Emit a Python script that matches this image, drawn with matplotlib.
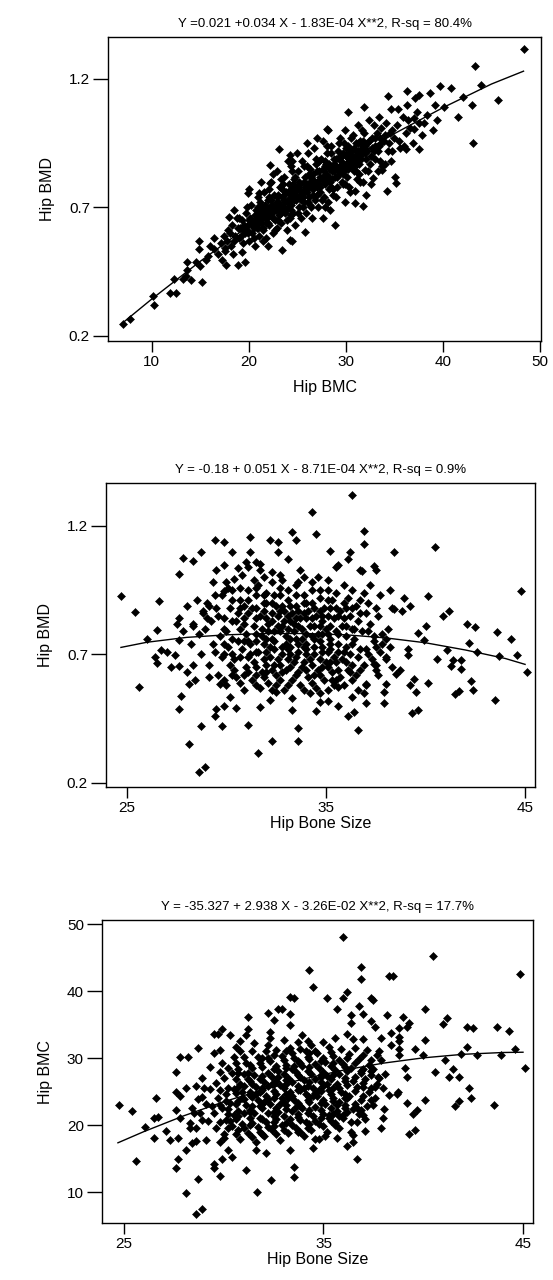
import matplotlib
matplotlib.use('Agg')
import matplotlib.pyplot as plt

plt.rcParams['font.family'] = ['Liberation Sans', 'DejaVu Sans']

# ---- data ----
# Panel 1: Hip BMC (x) vs Hip BMD (y)
bmc_bmd_points = [
    # sparse points along the lower tail
    (7.0, 0.245), (7.8, 0.265), (10.1, 0.356), (10.2, 0.320), (11.9, 0.366), (12.5, 0.366),
    (12.3, 0.422), (13.2, 0.422), (13.5, 0.431), (14.1, 0.418), (15.2, 0.410), (13.6, 0.457),
    (13.6, 0.489), (14.6, 0.489), (14.9, 0.571), (14.9, 0.538), (16.4, 0.580), (16.4, 0.538),
    (15.6, 0.496), (17.2, 0.496), (17.7, 0.476), (18.9, 0.476), (19.6, 0.489), (19.3, 0.525),
    (18.5, 0.690), (18.0, 0.664), (22.0, 0.550), (23.4, 0.535), (24.2, 0.573), (24.5, 0.571),
    (25.8, 0.605), (27.6, 0.659), (28.9, 0.632), (28.4, 0.690), (29.9, 0.722), (30.9, 0.716),
    (31.8, 0.706), (32.1, 0.748), (34.2, 0.764), (35.2, 0.795), (30.9, 0.762), (15.0, 0.470),
    (15.8, 0.510), (16.8, 0.520), (17.5, 0.530), (16.0, 0.550),
    # sparse points in the upper part
    (48.3, 1.317), (43.3, 1.250), (43.9, 1.177), (45.7, 1.116), (42.1, 1.129), (43.0, 1.098),
    (43.1, 0.949), (40.8, 1.163), (39.7, 1.172), (38.7, 1.146), (37.5, 1.137), (37.1, 1.124),
    (36.3, 1.154), (34.3, 1.133), (34.6, 1.081), (35.4, 1.081), (36.3, 1.100), (31.9, 1.092),
    (30.2, 1.070), (28.1, 1.006), (33.4, 1.051), (39.2, 1.098), (40.1, 1.092), (39.4, 1.040),
    (38.1, 1.027), (37.0, 1.047), (37.5, 1.030), (37.0, 1.006), (37.5, 0.928), (36.2, 0.928),
    (35.1, 0.820), (32.0, 0.846), (33.7, 0.846), (32.8, 0.813), (23.1, 0.926), (24.2, 0.904),
    (22.2, 0.865), (24.5, 0.880), (19.9, 0.756), (21.1, 0.755), (22.2, 0.795),
    # dense core
    (17.1, 0.56), (17.4, 0.59), (17.6, 0.54), (17.9, 0.61), (17.8, 0.57), (18.2, 0.55),
    (18.3, 0.63), (18.6, 0.59), (18.4, 0.52), (18.8, 0.66),
    (19.0, 0.58), (19.1, 0.62), (19.3, 0.65), (19.4, 0.56), (19.6, 0.60), (19.7, 0.68),
    (19.9, 0.63), (20.0, 0.57), (20.1, 0.66), (20.2, 0.71), (20.3, 0.60), (20.4, 0.64),
    (20.6, 0.55), (20.7, 0.69), (20.8, 0.62),
    (21.0, 0.67), (21.1, 0.59), (21.2, 0.72), (21.3, 0.64), (21.4, 0.70), (21.5, 0.61),
    (21.6, 0.76), (21.7, 0.66), (21.8, 0.58), (21.9, 0.69), (22.0, 0.73), (22.1, 0.63),
    (22.2, 0.67), (22.3, 0.80), (22.4, 0.71), (22.5, 0.60), (22.6, 0.75), (22.7, 0.65),
    (22.8, 0.69), (22.9, 0.84), (22.9, 0.62),
    (23.0, 0.72), (23.1, 0.67), (23.2, 0.78), (23.3, 0.64), (23.4, 0.74), (23.5, 0.70),
    (23.6, 0.82), (23.7, 0.68), (23.8, 0.76), (23.9, 0.61), (24.0, 0.73), (24.1, 0.79),
    (24.2, 0.66), (24.3, 0.86), (24.4, 0.71), (24.5, 0.75), (24.6, 0.68), (24.7, 0.81),
    (24.8, 0.63), (24.9, 0.77),
    (25.0, 0.74), (25.1, 0.84), (25.2, 0.70), (25.3, 0.79), (25.4, 0.66), (25.5, 0.88),
    (25.6, 0.76), (25.7, 0.72), (25.8, 0.82), (25.9, 0.68), (26.0, 0.79), (26.1, 0.91),
    (26.2, 0.74), (26.3, 0.85), (26.4, 0.70), (26.5, 0.81), (26.6, 0.77), (26.7, 0.93),
    (26.8, 0.73), (26.9, 0.87),
    (27.0, 0.80), (27.1, 0.70), (27.2, 0.84), (27.3, 0.76), (27.4, 0.89), (27.5, 0.81),
    (27.6, 0.96), (27.7, 0.74), (27.8, 0.86), (27.9, 0.79), (28.0, 0.83), (28.1, 0.91),
    (28.2, 0.72), (28.3, 0.87), (28.4, 0.80), (28.5, 0.94), (28.6, 0.84), (28.7, 0.77),
    (28.8, 0.89), (28.9, 0.82),
    (29.0, 0.86), (29.1, 0.78), (29.2, 0.92), (29.3, 0.83), (29.4, 0.97), (29.5, 0.88),
    (29.6, 0.80), (29.7, 0.91), (29.8, 0.85), (29.9, 1.00), (30.0, 0.87), (30.1, 0.82),
    (30.2, 0.94), (30.3, 0.89), (30.4, 0.76), (30.5, 0.92), (30.6, 0.86), (30.7, 0.98),
    (30.8, 0.84), (30.9, 0.90),
    (31.0, 0.95), (31.1, 0.87), (31.2, 0.92), (31.3, 1.02), (31.4, 0.83), (31.5, 0.96),
    (31.6, 0.89), (31.7, 0.93), (31.8, 0.80), (31.9, 0.99), (32.0, 0.91), (32.2, 0.95),
    (32.4, 1.04), (32.5, 0.87), (32.7, 0.97), (32.9, 0.92),
    (33.0, 0.89), (33.2, 0.99), (33.4, 0.94), (33.6, 1.01), (33.7, 0.86), (33.9, 0.96),
    (34.1, 1.03), (34.3, 0.92), (34.5, 0.99), (34.7, 0.88),
    (35.0, 0.97), (35.3, 1.02), (35.6, 0.93), (35.9, 1.05), (36.2, 0.99), (36.6, 1.01),
    (36.9, 0.95), (37.3, 1.07), (37.8, 0.98), (38.4, 1.06), (39.0, 1.00), (41.5, 1.05),
    (20.5, 0.62), (21.2, 0.65), (21.9, 0.66), (22.4, 0.68), (22.8, 0.70), (23.2, 0.71),
    (23.6, 0.73), (24.0, 0.70), (24.4, 0.74), (24.8, 0.76), (25.2, 0.77), (25.6, 0.74),
    (26.0, 0.76), (26.4, 0.78), (26.8, 0.80), (27.2, 0.79), (27.6, 0.82), (28.0, 0.80),
    (28.4, 0.85), (28.8, 0.84), (29.2, 0.85), (29.6, 0.87), (30.0, 0.90), (30.4, 0.88),
    (30.8, 0.93), (31.2, 0.89), (31.6, 0.91), (32.0, 0.94), (26.2, 0.83), (24.6, 0.79),
    (23.0, 0.75), (21.6, 0.69), (27.9, 0.88), (29.4, 0.90), (25.4, 0.73), (22.0, 0.64),
    (23.8, 0.69), (26.6, 0.75), (28.6, 0.81), (30.2, 0.85),
    # core fill
    (18.1, 0.60), (18.5, 0.57), (18.9, 0.62), (19.2, 0.59), (19.5, 0.63), (19.8, 0.61),
    (20.0, 0.65), (20.3, 0.63), (20.6, 0.67), (20.9, 0.64), (21.1, 0.69), (21.4, 0.66),
    (21.7, 0.71), (22.0, 0.68), (22.3, 0.73), (22.6, 0.70), (22.9, 0.74), (23.1, 0.69),
    (23.4, 0.77), (23.7, 0.72), (24.0, 0.76), (24.3, 0.69), (24.6, 0.77), (24.9, 0.73),
    (25.2, 0.80), (25.5, 0.75), (25.8, 0.78), (26.1, 0.72), (26.4, 0.82), (26.7, 0.79),
    (27.0, 0.84), (27.3, 0.78), (27.6, 0.85), (27.9, 0.81), (28.2, 0.86), (28.5, 0.78),
    (28.8, 0.87), (29.1, 0.82), (29.4, 0.86), (29.7, 0.83), (30.0, 0.93), (30.3, 0.86),
    (30.6, 0.90), (30.9, 0.87), (31.2, 0.95), (31.5, 0.90), (31.8, 0.94), (32.1, 0.89),
    (32.4, 0.96), (32.7, 0.93), (33.0, 0.97), (33.3, 0.92), (33.6, 0.95), (34.0, 0.98),
    (34.4, 0.95), (34.8, 1.00),
    (19.0, 0.66), (19.8, 0.70), (20.5, 0.58), (21.0, 0.74), (21.5, 0.57), (22.1, 0.77),
    (22.7, 0.61), (23.3, 0.81), (23.9, 0.65), (24.5, 0.84), (25.1, 0.68), (25.7, 0.86),
    (26.3, 0.71), (26.9, 0.89), (27.5, 0.73), (28.1, 0.94), (28.7, 0.75), (29.3, 0.95),
    (29.9, 0.79), (30.5, 0.97), (31.1, 0.81), (31.7, 1.00), (32.3, 0.84), (32.9, 1.02),
    (33.5, 0.88), (24.0, 0.88), (25.0, 0.91), (26.0, 0.95), (27.0, 0.97), (28.2, 1.00),
    (20.0, 0.77), (21.3, 0.80), (22.5, 0.83), (26.5, 0.66), (27.8, 0.70), (29.0, 0.74),
    (30.3, 0.78), (31.5, 0.80), (32.6, 0.79), (33.3, 0.84), (34.0, 0.87), (34.8, 0.92),
    (35.5, 0.96), (36.0, 0.94), (36.4, 1.04),
    (19.4, 0.61), (19.9, 0.60), (20.2, 0.64), (20.7, 0.65), (21.0, 0.62), (21.4, 0.68),
    (21.8, 0.64), (22.2, 0.70), (22.5, 0.66), (22.9, 0.72), (23.3, 0.68), (23.6, 0.75),
    (24.0, 0.72), (24.3, 0.77), (24.7, 0.73), (25.0, 0.78), (25.3, 0.75), (25.7, 0.80),
    (26.0, 0.77), (26.3, 0.80), (26.6, 0.83), (27.0, 0.78), (27.3, 0.82), (27.7, 0.84),
    (28.0, 0.87), (28.3, 0.82), (28.7, 0.86), (29.0, 0.89), (29.3, 0.84), (29.6, 0.90),
    (30.0, 0.85), (30.3, 0.91), (30.7, 0.88), (31.0, 0.92), (31.4, 0.87), (31.8, 0.96),
    (32.2, 0.92), (32.6, 0.90), (33.0, 0.94), (33.5, 0.97), (20.9, 0.70), (22.1, 0.74),
    (23.5, 0.79), (24.8, 0.82), (26.0, 0.86), (27.2, 0.88), (28.5, 0.91), (29.8, 0.95),
    (21.5, 0.62), (23.0, 0.65), (24.3, 0.67), (25.6, 0.70), (27.0, 0.75), (28.3, 0.77),
    (29.7, 0.79), (31.0, 0.84),
]
fit1_x = [7, 10, 15, 20, 25, 30, 35, 40, 45, 48.3]
fit1_y = [0.250, 0.343, 0.490, 0.628, 0.757, 0.876, 0.987, 1.088, 1.180, 1.230]

# Panel 2: Hip Bone Size (x) vs Hip BMD (y)
size_bmd_points = [
    (24.7, 0.927), (25.4, 0.865), (26.6, 0.907), (26.5, 0.796), (27.6, 1.011), (27.8, 1.076),
    (28.3, 1.063), (28.7, 1.100), (29.4, 1.146), (29.9, 1.139), (30.3, 1.100), (31.2, 1.156),
    (31.2, 1.100), (32.2, 1.146), (32.6, 1.137), (32.6, 1.100), (33.3, 1.178), (29.5, 1.030),
    (29.9, 1.046), (30.6, 1.037), (31.0, 1.059), (31.5, 1.060), (31.7, 1.027), (28.0, 0.887),
    (28.5, 0.910), (27.5, 0.820), (27.6, 0.840), (28.3, 0.809), (29.3, 0.980), (30.0, 0.980),
    (30.4, 0.995), (29.4, 0.930), (29.9, 0.945), (30.3, 0.950),
    (36.3, 1.321), (34.3, 1.254), (34.5, 1.170), (33.5, 1.146), (36.9, 1.180), (36.9, 1.131),
    (35.2, 1.102), (36.2, 1.098), (36.1, 1.070), (38.4, 1.098), (40.5, 1.117), (37.4, 1.042),
    (37.5, 1.030), (35.6, 1.046), (35.5, 1.040), (36.8, 1.024), (44.8, 0.946), (40.1, 0.926),
    (38.9, 0.921), (38.2, 0.952), (41.2, 0.869), (40.9, 0.851), (42.1, 0.820), (42.5, 0.806),
    (43.6, 0.788), (40.0, 0.809), (39.6, 0.783), (39.2, 0.890), (38.8, 0.870), (38.4, 0.878),
    (37.7, 0.930), (37.2, 0.968), (36.7, 1.027),
    (25.6, 0.573), (26.0, 0.758), (26.4, 0.690), (26.5, 0.668), (27.0, 0.709), (27.4, 0.696),
    (27.6, 0.757), (27.2, 0.651), (27.6, 0.653), (28.1, 0.583), (27.7, 0.538), (27.6, 0.488),
    (28.4, 0.600), (28.7, 0.420), (28.1, 0.353), (28.6, 0.242), (28.9, 0.262), (29.5, 0.486),
    (29.4, 0.459), (29.9, 0.498), (29.8, 0.420), (30.5, 0.490), (30.2, 0.534), (31.1, 0.424),
    (31.6, 0.318), (32.3, 0.363), (31.7, 0.495), (32.2, 0.521), (32.5, 0.553), (29.7, 0.586),
    (29.9, 0.600), (29.1, 0.612), (28.0, 0.631), (28.3, 0.660), (26.7, 0.718),
    (33.6, 0.412), (33.6, 0.363), (36.6, 0.404), (33.3, 0.482), (34.5, 0.480), (36.1, 0.460),
    (36.4, 0.475), (35.6, 0.500), (37.0, 0.512), (37.9, 0.510), (39.3, 0.472), (39.6, 0.482),
    (34.7, 0.516), (35.1, 0.517), (34.7, 0.551), (36.3, 0.534), (36.9, 0.550), (37.9, 0.553),
    (37.0, 0.586), (36.6, 0.560), (38.0, 0.586), (39.2, 0.580), (39.5, 0.553), (40.1, 0.589),
    (39.4, 0.605), (41.5, 0.547), (41.7, 0.557), (42.4, 0.563), (42.3, 0.596), (43.5, 0.524),
    (40.6, 0.683), (41.3, 0.653), (41.8, 0.643), (41.8, 0.677), (41.4, 0.677), (42.2, 0.744),
    (42.6, 0.710), (43.7, 0.692), (44.3, 0.758), (44.6, 0.697), (41.1, 0.718), (39.1, 0.722),
    (39.1, 0.696), (39.9, 0.757), (38.3, 0.651), (38.5, 0.625), (38.7, 0.640), (35.3, 0.599),
    (35.6, 0.573), (36.3, 0.600), (36.2, 0.631), (37.0, 0.580), (37.4, 0.664), (37.5, 0.638),
    (37.6, 0.620), (38.0, 0.683), (45.1, 0.630),
    (28.8, 0.87), (29.1, 0.89), (29.5, 0.88), (29.0, 0.84), (28.9, 0.80),
    # dense core
    (29.1, 0.66), (29.3, 0.74), (29.2, 0.83), (29.0, 0.90), (29.4, 0.71),
    (29.6, 0.62), (29.8, 0.69), (29.7, 0.77), (29.6, 0.85), (29.8, 0.93), (29.9, 0.80),
    (30.0, 0.58), (30.2, 0.66), (30.1, 0.73), (30.0, 0.79), (30.2, 0.88), (30.1, 0.96), (30.3, 0.70),
    (30.5, 0.61), (30.4, 0.68), (30.6, 0.75), (30.5, 0.83), (30.7, 0.91), (30.4, 0.64), (30.6, 0.86),
    (30.9, 0.56), (31.0, 0.65), (30.8, 0.72), (31.0, 0.78), (30.9, 0.84), (31.1, 0.95), (30.8, 1.01),
    (31.1, 0.69),
    (31.3, 0.60), (31.4, 0.67), (31.2, 0.74), (31.4, 0.81), (31.3, 0.88), (31.5, 0.93), (31.2, 0.70),
    (31.4, 0.99),
    (31.7, 0.57), (31.8, 0.63), (31.6, 0.71), (31.8, 0.77), (31.7, 0.85), (31.9, 0.90), (31.6, 0.97),
    (31.8, 0.80), (31.7, 1.05),
    (32.1, 0.59), (32.0, 0.66), (32.2, 0.73), (32.1, 0.79), (32.3, 0.86), (32.0, 0.94), (32.2, 0.69),
    (32.1, 0.82), (32.3, 1.02),
    (32.5, 0.62), (32.6, 0.68), (32.4, 0.75), (32.6, 0.81), (32.5, 0.89), (32.7, 0.96), (32.4, 0.72),
    (32.6, 0.85), (32.5, 0.58),
    (32.9, 0.56), (33.0, 0.64), (32.8, 0.70), (33.0, 0.77), (32.9, 0.83), (33.1, 0.91), (32.8, 0.99),
    (33.0, 0.74), (32.9, 0.87), (33.1, 1.07),
    (33.3, 0.60), (33.4, 0.67), (33.2, 0.73), (33.4, 0.79), (33.3, 0.86), (33.5, 0.93), (33.2, 0.70),
    (33.4, 0.82), (33.3, 0.53),
    (33.7, 0.58), (33.8, 0.65), (33.6, 0.71), (33.8, 0.76), (33.7, 0.84), (33.9, 0.90), (33.6, 0.98),
    (33.8, 0.80), (33.7, 1.03),
    (34.1, 0.61), (34.2, 0.68), (34.0, 0.74), (34.2, 0.81), (34.1, 0.87), (34.3, 0.95), (34.0, 0.72),
    (34.2, 0.55),
    (34.5, 0.57), (34.6, 0.64), (34.4, 0.70), (34.6, 0.78), (34.5, 0.85), (34.7, 0.92), (34.4, 0.76),
    (34.6, 1.00),
    (34.9, 0.60), (35.0, 0.67), (34.8, 0.73), (35.0, 0.80), (34.9, 0.88), (35.1, 0.95), (34.8, 0.83),
    (35.3, 0.63), (35.4, 0.69), (35.2, 0.76), (35.4, 0.84), (35.3, 0.91), (35.2, 0.72), (35.4, 0.58),
    (35.7, 0.61), (35.8, 0.68), (35.6, 0.74), (35.8, 0.81), (35.7, 0.87), (35.9, 0.97), (35.6, 0.78),
    (36.1, 0.64), (36.2, 0.70), (36.0, 0.77), (36.2, 0.85), (36.1, 0.92), (36.0, 0.73),
    (36.5, 0.62), (36.6, 0.69), (36.4, 0.76), (36.6, 0.83), (36.5, 0.89), (36.4, 0.80),
    (36.9, 0.66), (37.0, 0.72), (36.8, 0.79), (37.0, 0.86), (36.9, 0.94),
    (37.3, 0.68), (37.4, 0.75), (37.2, 0.82), (37.4, 0.77),
    (37.7, 0.71), (37.8, 0.78), (37.6, 0.85), (37.8, 0.74),
    (38.2, 0.73), (38.1, 0.80), (38.3, 0.88),
    (28.7, 0.70), (28.6, 0.78), (28.8, 0.86), (28.2, 0.74), (28.3, 0.82), (27.8, 0.79),
    # core fill
    (29.9, 0.70), (29.9, 0.84), (29.9, 0.74),
    (30.3, 0.62), (30.3, 0.76), (30.3, 0.91), (30.3, 0.83),
    (30.7, 0.59), (30.7, 0.69), (30.7, 0.80), (30.7, 0.88), (30.7, 0.96),
    (31.1, 0.63), (31.1, 0.75), (31.1, 0.86), (31.1, 0.91), (31.1, 1.04),
    (31.5, 0.58), (31.5, 0.65), (31.5, 0.78), (31.5, 0.84), (31.5, 0.96),
    (31.9, 0.61), (31.9, 0.68), (31.9, 0.74), (31.9, 0.87), (31.9, 0.93), (31.9, 1.00),
    (32.3, 0.56), (32.3, 0.64), (32.3, 0.76), (32.3, 0.83), (32.3, 0.90), (32.3, 0.98),
    (32.7, 0.60), (32.7, 0.66), (32.7, 0.79), (32.7, 0.87), (32.7, 0.93), (32.7, 1.01),
    (33.1, 0.58), (33.1, 0.68), (33.1, 0.72), (33.1, 0.80), (33.1, 0.95), (33.1, 0.85),
    (33.5, 0.62), (33.5, 0.69), (33.5, 0.76), (33.5, 0.84), (33.5, 0.89), (33.5, 0.97),
    (33.9, 0.56), (33.9, 0.67), (33.9, 0.73), (33.9, 0.86), (33.9, 0.93), (33.9, 1.00),
    (34.3, 0.59), (34.3, 0.66), (34.3, 0.77), (34.3, 0.84), (34.3, 0.90), (34.3, 0.98),
    (34.7, 0.62), (34.7, 0.68), (34.7, 0.75), (34.7, 0.81), (34.7, 0.87), (34.7, 0.95),
    (35.1, 0.56), (35.1, 0.65), (35.1, 0.71), (35.1, 0.78), (35.1, 0.85), (35.1, 0.91), (35.1, 0.99),
    (35.5, 0.60), (35.5, 0.67), (35.5, 0.79), (35.5, 0.88), (35.5, 0.94),
    (35.9, 0.58), (35.9, 0.71), (35.9, 0.84), (35.9, 0.90),
    (36.3, 0.66), (36.3, 0.74), (36.3, 0.80), (36.3, 0.88), (36.3, 0.95),
    (36.7, 0.64), (36.7, 0.72), (36.7, 0.86), (36.7, 0.91),
    (37.1, 0.70), (37.1, 0.79), (37.1, 0.90),
    (37.5, 0.66), (37.5, 0.73), (37.5, 0.88),
    (38.0, 0.76), (38.0, 0.69),
    (30.9, 0.62), (30.9, 0.75), (30.9, 0.82), (30.9, 0.89),
    (31.5, 0.62), (31.5, 0.71), (31.5, 0.75), (31.5, 0.88),
    (32.0, 0.63), (32.0, 0.71), (32.0, 0.76), (32.0, 0.84), (32.0, 0.90),
    (32.4, 0.66), (32.4, 0.79), (32.4, 0.93),
    (32.8, 0.63), (32.8, 0.73), (32.8, 0.81), (32.8, 0.89),
    (33.2, 0.65), (33.2, 0.76), (33.2, 0.83), (33.2, 0.89),
    (33.6, 0.63), (33.6, 0.74), (33.6, 0.81), (33.6, 0.87),
    (34.0, 0.64), (34.0, 0.70), (34.0, 0.78), (34.0, 0.84), (34.0, 0.90),
    (34.4, 0.62), (34.4, 0.73), (34.4, 0.81), (34.4, 0.88),
    (34.8, 0.65), (34.8, 0.71), (34.8, 0.78), (34.8, 0.85),
    (35.2, 0.67), (35.2, 0.74), (35.2, 0.81), (35.2, 0.88),
    (35.6, 0.64), (35.6, 0.71), (35.6, 0.85),
    (36.0, 0.67), (36.0, 0.81), (36.0, 0.88),
]
fit2_x = [24.7, 26, 28, 30, 32, 34, 36, 38, 40, 42, 44, 45]
fit2_y = [0.727, 0.747, 0.766, 0.776, 0.781, 0.781, 0.776, 0.764, 0.745, 0.717, 0.684, 0.661]

# Panel 3: Hip Bone Size (x) vs Hip BMC (y)
size_bmc_points = [
    (27.6, 27.9), (27.8, 30.1), (28.2, 30.1), (28.7, 31.5), (29.5, 33.6), (29.7, 33.6),
    (29.9, 34.3), (30.3, 33.4), (29.5, 30.8), (29.8, 31.2), (30.6, 31.7), (30.8, 32.6),
    (31.1, 33.4), (31.2, 34.4), (31.2, 36.2), (32.2, 36.8), (32.7, 37.3), (32.9, 37.3),
    (32.5, 35.7), (32.3, 33.9), (33.3, 36.6), (33.3, 34.9), (33.3, 39.1), (33.5, 38.9),
    (29.3, 28.7), (28.6, 25.8), (28.1, 25.5), (27.6, 25.0),
    (36.0, 48.0), (34.3, 43.2), (36.9, 43.6), (36.9, 41.8), (40.5, 45.2), (44.85, 42.5),
    (38.3, 42.2), (38.5, 42.2), (34.5, 40.6), (36.2, 39.8), (36.0, 39.0), (35.2, 38.9),
    (37.4, 39.0), (37.5, 38.6), (35.7, 37.3), (36.8, 37.8), (38.2, 36.5), (40.1, 37.3),
    (41.0, 35.1), (41.2, 36.0), (42.2, 34.7), (42.5, 34.5), (43.7, 34.6), (44.3, 34.0),
    (44.6, 31.4), (42.2, 31.6), (41.9, 30.6), (42.7, 30.4), (43.9, 30.5), (40.1, 32.7),
    (39.6, 31.3), (40.0, 30.4), (39.0, 36.1), (39.3, 35.3), (39.2, 34.6), (38.8, 34.5),
    (38.4, 33.8), (38.8, 33.2), (38.8, 32.5), (38.4, 31.9), (38.8, 31.4), (38.8, 30.4),
    (40.6, 27.9), (41.1, 29.7), (41.5, 28.3), (41.3, 27.2), (41.8, 27.2), (42.3, 25.5),
    (39.1, 28.5), (39.2, 27.2), (45.1, 28.5), (37.6, 34.7), (37.9, 33.0), (37.0, 32.8),
    (37.4, 35.6), (37.0, 36.6), (36.4, 35.3), (36.4, 36.5), (36.9, 28.0), (37.4, 28.0),
    (37.75, 27.2), (37.0, 25.7), (37.6, 25.7), (38.75, 25.0),
    (24.75, 23.0), (25.4, 22.1), (25.6, 14.7), (26.6, 24.1), (26.05, 19.75), (26.5, 21.0),
    (26.7, 21.2), (26.5, 18.0), (27.1, 19.1), (27.3, 17.8), (27.6, 22.2), (27.8, 21.0),
    (27.7, 18.0), (27.8, 24.3), (28.1, 16.3), (27.7, 15.0), (27.6, 13.6), (28.1, 9.9),
    (28.7, 12.0), (28.6, 6.7), (28.9, 7.4), (28.4, 17.3), (28.6, 17.6), (29.1, 17.8),
    (29.5, 13.6), (29.5, 14.2), (29.8, 12.4), (29.9, 15.0), (30.2, 16.3), (30.4, 15.3),
    (29.8, 17.5), (30.0, 18.0), (31.1, 13.3), (31.65, 10.05), (32.35, 11.8), (31.6, 16.2),
    (32.1, 15.9), (33.3, 16.3), (33.5, 13.8), (33.5, 12.2),
    (36.7, 14.9), (34.5, 16.6), (36.2, 16.8), (36.5, 17.4), (34.6, 17.9), (34.8, 17.9),
    (35.1, 18.4), (35.7, 18.0), (36.5, 18.5), (36.4, 19.0), (37.1, 19.1), (37.9, 19.5),
    (39.3, 18.6), (39.6, 19.3), (38.0, 21.0), (38.05, 22.4), (39.5, 21.6), (39.7, 22.2),
    (39.2, 23.3), (40.1, 23.7), (41.6, 22.8), (41.8, 23.6), (42.4, 24.1), (43.55, 23.0),
    (37.0, 21.5), (37.1, 20.9), (36.9, 22.2), (36.7, 20.5), (36.0, 21.5), (35.6, 20.3),
    (35.8, 19.5), (35.3, 21.5), (37.4, 23.7), (37.5, 23.0), (38.3, 24.5), (38.7, 24.7),
    (36.7, 22.6), (28.3, 20.3), (28.6, 19.5), (28.9, 20.8), (28.5, 21.8), (28.9, 27.0),
    (29.0, 25.5), (28.7, 23.9),
    # dense core
    (29.6, 19.5), (29.5, 21.8), (29.7, 24.0), (29.6, 26.3), (29.4, 22.9),
    (30.0, 18.6), (30.1, 20.7), (29.9, 22.5), (30.1, 24.6), (30.0, 27.0), (29.9, 29.2), (30.1, 23.6),
    (30.4, 19.8), (30.5, 21.5), (30.3, 23.3), (30.5, 25.4), (30.4, 27.8), (30.3, 20.6), (30.5, 30.1),
    (30.8, 17.9), (30.9, 20.2), (30.7, 22.1), (30.9, 24.0), (30.8, 26.1), (30.7, 28.4), (30.9, 25.0),
    (30.8, 31.0),
    (31.2, 18.8), (31.3, 21.0), (31.1, 23.0), (31.3, 24.9), (31.2, 26.8), (31.1, 29.3), (31.3, 22.0),
    (31.2, 27.8),
    (31.6, 17.5), (31.7, 19.7), (31.5, 21.8), (31.7, 23.7), (31.6, 25.7), (31.5, 27.5), (31.7, 30.2),
    (31.6, 24.6), (31.5, 32.2),
    (32.0, 18.3), (32.1, 20.4), (31.9, 22.5), (32.1, 24.4), (32.0, 26.4), (31.9, 28.6), (32.1, 31.0),
    (32.0, 23.5), (31.9, 25.5),
    (32.4, 19.2), (32.5, 21.3), (32.3, 23.2), (32.5, 25.1), (32.4, 27.2), (32.3, 29.5), (32.5, 20.5),
    (32.4, 26.2), (32.3, 33.0),
    (32.8, 17.8), (32.9, 20.0), (32.7, 22.0), (32.9, 24.0), (32.8, 26.0), (32.7, 28.1), (32.9, 30.3),
    (32.8, 23.1), (32.7, 27.1),
    (33.2, 18.8), (33.3, 20.9), (33.1, 23.0), (33.3, 25.0), (33.2, 27.0), (33.1, 29.0), (33.3, 31.5),
    (33.2, 24.0), (33.1, 26.1),
    (33.6, 19.6), (33.7, 21.7), (33.5, 23.8), (33.7, 25.8), (33.6, 27.9), (33.5, 30.0), (33.7, 32.4),
    (33.6, 22.7), (33.5, 28.8),
    (34.0, 18.4), (34.1, 20.5), (33.9, 22.6), (34.1, 24.6), (34.0, 26.7), (33.9, 28.8), (34.1, 31.0),
    (34.0, 25.6), (33.9, 33.5),
    (34.4, 19.3), (34.5, 21.4), (34.3, 23.5), (34.5, 25.5), (34.4, 27.6), (34.3, 29.8), (34.5, 24.4),
    (34.4, 32.0),
    (34.8, 20.2), (34.9, 22.3), (34.7, 24.3), (34.9, 26.4), (34.8, 28.5), (34.7, 30.7), (34.9, 27.4),
    (34.8, 25.3),
    (35.2, 19.0), (35.3, 21.1), (35.1, 23.2), (35.3, 25.2), (35.2, 27.3), (35.1, 29.4), (35.3, 31.6),
    (35.2, 26.2),
    (35.6, 20.0), (35.7, 22.1), (35.5, 24.1), (35.7, 26.1), (35.6, 28.2), (35.5, 30.3), (35.7, 23.0),
    (35.6, 33.0),
    (36.0, 21.0), (36.1, 23.0), (35.9, 25.0), (36.1, 27.0), (36.0, 29.1), (35.9, 31.4), (36.1, 24.0),
    (36.4, 20.4), (36.5, 22.4), (36.3, 24.4), (36.5, 26.5), (36.4, 28.5), (36.3, 30.6), (36.5, 32.8),
    (36.8, 21.6), (36.9, 23.7), (36.7, 25.7), (36.9, 27.7), (36.8, 29.8),
    (37.2, 22.9), (37.3, 24.9), (37.1, 26.9), (37.3, 29.0), (37.2, 31.2),
    (37.6, 24.1), (37.7, 26.2), (37.5, 28.3), (37.7, 30.4),
    (38.0, 25.6), (38.1, 27.6), (37.9, 29.7),
    (29.2, 20.6), (29.1, 23.1), (29.3, 25.4), (28.8, 21.8), (28.9, 24.2), (28.4, 22.5), (28.3, 19.5),
    # core fill
    (29.8, 20.5), (29.8, 23.0), (29.8, 25.3), (29.8, 27.9),
    (30.2, 19.6), (30.2, 21.6), (30.2, 25.6), (30.2, 28.5), (30.2, 22.4),
    (30.6, 18.7), (30.6, 20.9), (30.6, 23.1), (30.6, 24.8), (30.6, 26.9), (30.6, 29.3),
    (31.0, 19.5), (31.0, 21.8), (31.0, 23.9), (31.0, 25.9), (31.0, 27.6), (31.0, 30.2),
    (31.4, 18.2), (31.4, 20.3), (31.4, 22.8), (31.4, 24.2), (31.4, 26.2), (31.4, 28.5), (31.4, 31.0),
    (31.8, 19.0), (31.8, 21.0), (31.8, 22.9), (31.8, 25.0), (31.8, 26.8), (31.8, 29.3),
    (32.2, 19.7), (32.2, 21.8), (32.2, 23.9), (32.2, 25.8), (32.2, 27.8), (32.2, 30.0), (32.2, 32.0),
    (32.6, 18.6), (32.6, 20.9), (32.6, 22.5), (32.6, 24.6), (32.6, 26.6), (32.6, 28.8), (32.6, 31.2),
    (33.0, 19.2), (33.0, 21.4), (33.0, 23.5), (33.0, 25.5), (33.0, 27.6), (33.0, 29.7), (33.0, 32.7),
    (33.4, 20.0), (33.4, 22.1), (33.4, 24.4), (33.4, 26.4), (33.4, 28.4), (33.4, 30.7),
    (33.8, 18.9), (33.8, 20.8), (33.8, 22.9), (33.8, 25.2), (33.8, 27.2), (33.8, 29.2), (33.8, 31.4),
    (34.2, 19.6), (34.2, 21.8), (34.2, 23.8), (34.2, 25.9), (34.2, 28.1), (34.2, 30.1), (34.2, 32.6),
    (34.6, 20.6), (34.6, 22.7), (34.6, 24.8), (34.6, 26.9), (34.6, 29.1), (34.6, 31.1),
    (35.0, 19.8), (35.0, 21.7), (35.0, 23.8), (35.0, 25.8), (35.0, 27.9), (35.0, 30.0), (35.0, 32.4),
    (35.4, 20.6), (35.4, 22.6), (35.4, 24.6), (35.4, 26.8), (35.4, 28.8), (35.4, 30.9),
    (35.8, 21.4), (35.8, 23.5), (35.8, 25.6), (35.8, 27.6), (35.8, 29.7),
    (36.2, 22.0), (36.2, 24.0), (36.2, 26.0), (36.2, 28.0), (36.2, 30.0), (36.2, 33.6),
    (36.6, 23.1), (36.6, 25.1), (36.6, 27.1), (36.6, 29.2), (36.6, 31.5),
    (37.0, 24.3), (37.0, 26.3), (37.0, 28.4), (37.0, 30.5),
    (37.4, 25.6), (37.4, 27.5), (37.4, 29.7),
    (37.8, 27.0), (37.8, 31.0),
    (30.7, 19.3), (30.7, 21.4), (30.7, 23.6), (30.7, 25.7), (30.7, 27.7),
    (31.3, 20.0), (31.3, 22.3), (31.3, 24.5), (31.3, 26.5), (31.3, 28.9),
    (31.9, 18.7), (31.9, 20.9), (31.9, 23.2), (31.9, 25.3), (31.9, 27.3), (31.9, 30.0),
    (32.5, 19.9), (32.5, 22.0), (32.5, 24.0), (32.5, 26.1), (32.5, 28.4), (32.5, 30.5),
    (33.1, 20.3), (33.1, 22.4), (33.1, 24.6), (33.1, 26.7), (33.1, 28.5), (33.1, 31.0),
    (33.7, 19.0), (33.7, 21.2), (33.7, 23.3), (33.7, 25.3), (33.7, 27.5), (33.7, 29.6),
    (34.3, 20.1), (34.3, 22.3), (34.3, 24.2), (34.3, 26.4), (34.3, 28.7), (34.3, 30.8),
    (34.9, 21.1), (34.9, 23.3), (34.9, 25.1), (34.9, 27.1), (34.9, 29.5),
    (35.5, 21.6), (35.5, 23.6), (35.5, 25.6), (35.5, 27.5), (35.5, 29.3),
    (36.1, 22.6), (36.1, 24.6), (36.1, 26.6), (36.1, 28.6),
]
fit3_x = [24.7, 26, 28, 30, 32, 34, 36, 38, 40, 42, 44, 45]
fit3_y = [17.35, 19.02, 21.38, 23.47, 25.31, 26.88, 28.19, 29.24, 30.03, 30.56, 30.83, 30.87]

titles = [
    'Y =0.021 +0.034 X - 1.83E-04 X**2, R-sq = 80.4%',
    'Y = -0.18 + 0.051 X - 8.71E-04 X**2, R-sq = 0.9%',
    'Y = -35.327 + 2.938 X - 3.26E-02 X**2, R-sq = 17.7%',
]
bmd_ticks = [0.2, 0.7, 1.2]
bmd_ticklabels = ['0.2', '0.7', '1.2']
bmc_ticks = [10, 20, 30, 40, 50]
bmc_ticklabels = ['10', '20', '30', '40', '50']
size_ticks = [25, 35, 45]
size_ticklabels = ['25', '35', '45']


def draw_panel(fig, rect, points, fit_x, fit_y, title, xlabel, ylabel,
               xlim, ylim, xticks, xticklabels, yticks, yticklabels, xlabelpad):
    ax = fig.add_axes(rect)
    xs = [p[0] for p in points]
    ys = [p[1] for p in points]
    ax.plot(xs, ys, 'D', ms=3.7, color='black', mew=0.4)
    ax.plot(fit_x, fit_y, '-', color='black', lw=1.0)

    ax.set_xlim(*xlim)
    ax.set_ylim(*ylim)
    ax.set_xticks(xticks)
    ax.set_xticklabels(xticklabels)
    ax.set_yticks(yticks)
    ax.set_yticklabels(yticklabels)
    ax.tick_params(axis='y', length=11, width=1.0, pad=2, labelsize=11)
    ax.tick_params(axis='x', length=8, width=1.0, pad=2, labelsize=11)
    for side in ['top', 'right', 'bottom', 'left']:
        ax.spines[side].set_linewidth(1.0)

    ax.set_title(title, fontsize=9.5, pad=7)
    ax.set_xlabel(xlabel, fontsize=11.5, labelpad=xlabelpad)
    ax.set_ylabel(ylabel, fontsize=11.5, labelpad=10)
    return ax


fig = plt.figure(figsize=(5.53, 12.8), dpi=100)

draw_panel(fig, [0.1953, 0.7336, 0.783, 0.2375], bmc_bmd_points, fit1_x, fit1_y,
           titles[0], 'Hip BMC', 'Hip BMD', (5.5, 50.1), (0.18, 1.363),
           bmc_ticks, bmc_ticklabels, bmd_ticks, bmd_ticklabels, 8)

draw_panel(fig, [0.1917, 0.3852, 0.7758, 0.2375], size_bmd_points, fit2_x, fit2_y,
           titles[1], 'Hip Bone Size', 'Hip BMD', (23.95, 45.5), (0.184, 1.367),
           size_ticks, size_ticklabels, bmd_ticks, bmd_ticklabels, 1)

draw_panel(fig, [0.1844, 0.0445, 0.7794, 0.2367], size_bmc_points, fit3_x, fit3_y,
           titles[2], 'Hip Bone Size', 'Hip BMC', (23.9, 45.5), (5.37, 50.6),
           size_ticks, size_ticklabels, bmc_ticks, bmc_ticklabels, 1)

fig.savefig('out.png', dpi=100)
